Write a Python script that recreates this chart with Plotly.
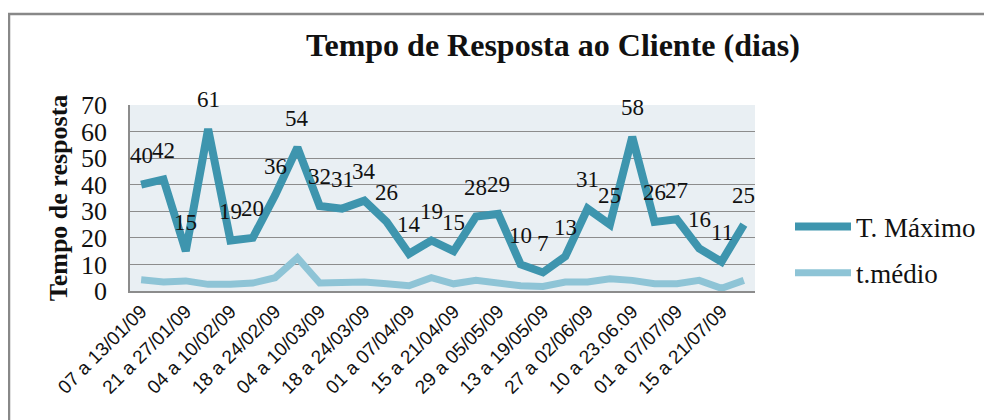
import plotly.graph_objects as go

categories = [
    "07 a 13/01/09", "14 a 20/01/09", "21 a 27/01/09", "28 a 03/02/09",
    "04 a 10/02/09", "11 a 17/02/09", "18 a 24/02/09", "25 a 03/03/09",
    "04 a 10/03/09", "11 a 17/03/09", "18 a 24/03/09", "25 a 31/03/09",
    "01 a 07/04/09", "08 a 14/04/09", "15 a 21/04/09", "22 a 28/04/09",
    "29 a 05/05/09", "06 a 12/05/09", "13 a 19/05/09", "20 a 26/05/09",
    "27 a 02/06/09", "03 a 09/06/09", "10 a 23.06.09", "24 a 30/06/09",
    "01 a 07/07/09", "08 a 14/07/09", "15 a 21/07/09", "22 a 28/07/09",
]
t_maximo = [40, 42, 15, 61, 19, 20, 36, 54, 32, 31, 34, 26, 14, 19,
            15, 28, 29, 10, 7, 13, 31, 25, 58, 26, 27, 16, 11, 25]
t_medio = [4.2, 3.4, 3.8, 2.5, 2.5, 3, 5, 12.5, 3, 3.2, 3.4, 2.7, 2, 5,
           2.7, 4, 3, 2, 1.7, 3.4, 3.4, 4.6, 4, 2.7, 2.7, 4, 1, 4]
tick_vals = categories[::2]
y_ticks = [0, 10, 20, 30, 40, 50, 60, 70]

SERIF = "Liberation Serif"
DARK = "#3e95ae"
LIGHT = "#8ec4d6"

# page has an 8px body margin; layout numbers below are in figure pixels
L, R, T, B = 122, 747, 97, 283
W, H = 992, 420
PW, PH = R - L, B - T

fig = go.Figure()
fig.add_trace(go.Scatter(
    x=categories, y=t_maximo, mode="lines", name="T. Máximo",
    line=dict(color=DARK, width=8), legendgroup="a",
))
fig.add_trace(go.Scatter(
    x=categories, y=t_medio, mode="lines", name="t.médio",
    line=dict(color=LIGHT, width=7), legendgroup="b",
))

for c, v in zip(categories, t_maximo):
    fig.add_annotation(x=c, y=v, text=str(v), showarrow=False,
                       yshift=29, font=dict(family=SERIF, size=23, color="#111"))

# outer frame
fig.add_shape(type="rect", xref="paper", yref="paper",
              x0=(1 - L) / PW, x1=(1010 - L) / PW,
              y0=(B - 440) / PH, y1=(B - 6) / PH,
              line=dict(color="#888888", width=2.5), layer="below")

fig.update_layout(
    width=W, height=H,
    margin=dict(l=L, r=W - R, t=T, b=H - B, autoexpand=False),
    paper_bgcolor="white", plot_bgcolor="#e9eff3",
    title=dict(text="<b>Tempo de Resposta ao Cliente (dias)</b>",
               font=dict(family=SERIF, size=32, color="#111"),
               x=545 / W, xanchor="center", y=1 - 37 / H, yanchor="middle"),
    showlegend=True,
    legend=dict(x=(782 - L) / PW, xanchor="left", y=(B - 242) / PH, yanchor="middle",
                font=dict(family=SERIF, size=27, color="#111"),
                itemwidth=56, tracegroupgap=8, bgcolor="rgba(0,0,0,0)"),
    xaxis=dict(
        type="category", tickmode="array", tickvals=tick_vals, ticktext=tick_vals,
        tickangle=-45, tickfont=dict(family="Liberation Sans", size=19, color="#111"),
        showgrid=False, showline=True, linecolor="#8c8c8c", linewidth=1.5,
        ticks="", range=[-0.5, len(categories) - 0.5], automargin=False,
    ),
    yaxis=dict(
        range=[0, 70], tickvals=y_ticks,
        tickfont=dict(family=SERIF, size=26, color="#111"),
        ticklabelstandoff=16,
        showgrid=True, gridcolor="#8c8c8c", gridwidth=1,
        showline=True, linecolor="#8c8c8c", linewidth=1.5, zeroline=False,
        title=dict(text="<b>Tempo de resposta</b>",
                   font=dict(family=SERIF, size=26, color="#111"), standoff=6),
        ticks="", ticklen=0, automargin=False,
    ),
)

fig.write_html("out.html")
